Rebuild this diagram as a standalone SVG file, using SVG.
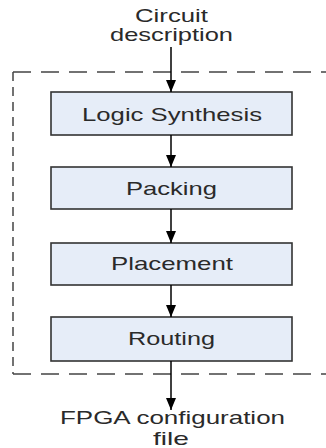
<svg xmlns="http://www.w3.org/2000/svg" width="326" height="448" viewBox="0 0 326 448">
<style>
.bg{fill:#ffffff}
.box{fill:#e6edf8;stroke:#333333;stroke-width:1.6}
.lbl{font-family:"Liberation Sans",Arial,sans-serif;font-size:18.5px;fill:#2a2a2a;text-anchor:middle}
.dh{fill:none;stroke:#444444;stroke-width:1.5;stroke-dasharray:18 10}
.dv{fill:none;stroke:#444444;stroke-width:1.5;stroke-dasharray:9 6}
.arr{stroke:#000000;stroke-width:1.5;fill:none;marker-end:url(#ah)}
</style>
<defs>
<marker id="ah" markerUnits="userSpaceOnUse" markerWidth="12" markerHeight="10" refX="12" refY="5" orient="auto" viewBox="0 0 12 10">
<path d="M0,0 L12,5 L0,10 Z" fill="#000000"/>
</marker>
</defs>
<rect class="bg" x="0" y="0" width="326" height="448"/>
<g id="boundary">
<line class="dh" x1="13" y1="72" x2="330" y2="72"/>
<line class="dv" x1="13" y1="72" x2="13" y2="374"/>
<line class="dh" x1="13" y1="374" x2="330" y2="374"/>
</g>
<g id="input">
<text class="lbl" x="171.5" y="22" textLength="73" lengthAdjust="spacingAndGlyphs">Circuit</text>
<text class="lbl" x="171.5" y="41" textLength="123" lengthAdjust="spacingAndGlyphs">description</text>
</g>
<g id="logic-synthesis">
<rect class="box" x="51" y="92" width="241" height="43"/>
<text class="lbl" x="172" y="120.5" textLength="180" lengthAdjust="spacingAndGlyphs">Logic Synthesis</text>
</g>
<g id="packing">
<rect class="box" x="51" y="167" width="241" height="42"/>
<text class="lbl" x="171.5" y="194.5" textLength="91" lengthAdjust="spacingAndGlyphs">Packing</text>
</g>
<g id="placement">
<rect class="box" x="51" y="243" width="241" height="42"/>
<text class="lbl" x="172" y="270" textLength="122" lengthAdjust="spacingAndGlyphs">Placement</text>
</g>
<g id="routing">
<rect class="box" x="51" y="317" width="241" height="44"/>
<text class="lbl" x="171.5" y="345" textLength="87" lengthAdjust="spacingAndGlyphs">Routing</text>
</g>
<g id="output">
<text class="lbl" x="172.5" y="424" textLength="225" lengthAdjust="spacingAndGlyphs">FPGA configuration</text>
<text class="lbl" x="171" y="445" textLength="36" lengthAdjust="spacingAndGlyphs">file</text>
</g>
<g id="connectors">
<line class="arr" x1="171" y1="47" x2="171" y2="92"/>
<line class="arr" x1="171" y1="135" x2="171" y2="167"/>
<line class="arr" x1="171" y1="209" x2="171" y2="243"/>
<line class="arr" x1="171" y1="285" x2="171" y2="317"/>
<line class="arr" x1="171" y1="361" x2="171" y2="410"/>
</g>
</svg>
